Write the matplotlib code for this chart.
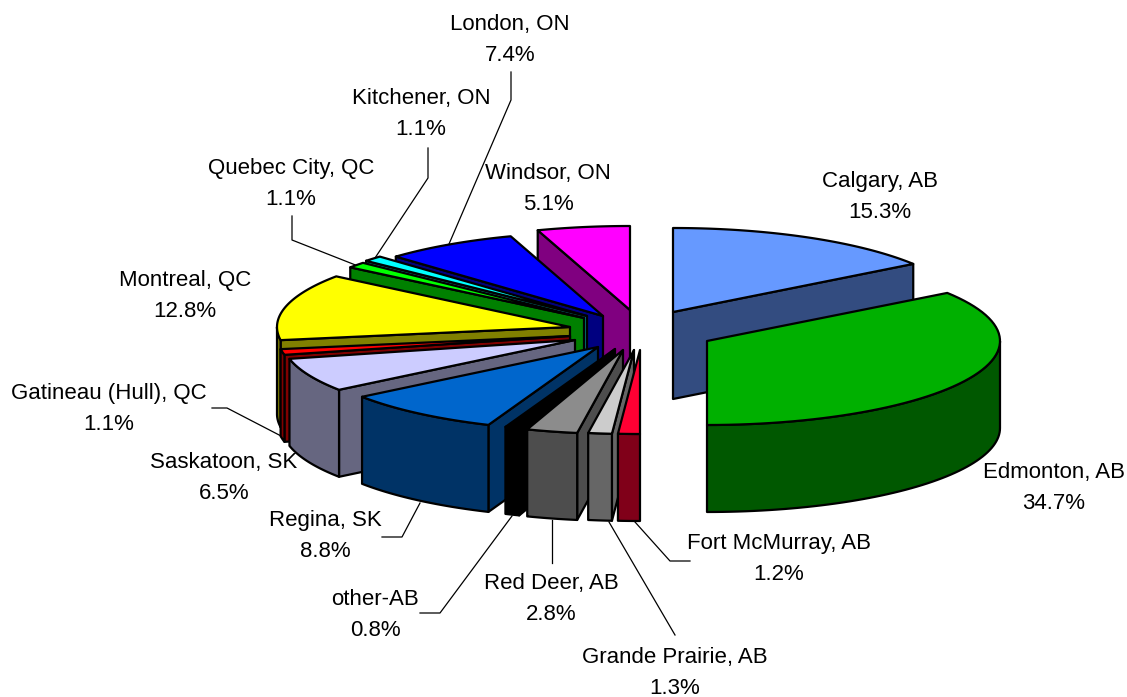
import matplotlib
matplotlib.use("Agg")
import matplotlib.pyplot as plt
import numpy as np

plt.rcParams['font.family'] = ['Liberation Sans', 'DejaVu Sans']

# clockwise from 12 o'clock
cities = ["Calgary, AB", "Edmonton, AB", "Fort McMurray, AB", "Grande Prairie, AB",
          "Red Deer, AB", "other-AB", "Regina, SK", "Saskatoon, SK", "Gatineau (Hull), QC",
          "Montreal, QC", "Quebec City, QC", "Kitchener, ON", "London, ON", "Windsor, ON"]
shares = [15.3, 34.7, 1.2, 1.3, 2.8, 0.8, 8.8, 6.5, 1.1, 12.8, 1.1, 1.1, 7.4, 5.1]

top_colors = ["#6699ff", "#00b000", "#ff0033", "#cccccc", "#8c8c8c", "#000000", "#0066cc",
              "#ccccff", "#ff0000", "#ffff00", "#00ff00", "#00ffff", "#0000ff", "#ff00ff"]
side_colors = ["#334c80", "#005800", "#800019", "#666666", "#4d4d4d", "#000000", "#003366",
               "#666680", "#800000", "#808000", "#008000", "#008080", "#000080", "#800080"]

# exploded position of each slice tip, in picture pixels
tips = [(673, 312), (707, 341), (640, 350), (634, 350), (623, 350), (615, 349), (598, 347),
        (575, 340), (570, 336), (570, 327), (584, 318), (587, 316), (603, 316), (630, 310)]

# label centre and leader line for each slice
label_pos = [(880, 197), (1054, 488), (779, 559), (675, 673), (551, 599), (375, 615), (325, 536),
             (224, 478), (109, 409), (185, 296), (291, 184), (421, 114), (510, 40), (548, 189)]
leaders = [None, None,
           [(635, 522), (670, 561), (690, 561)],
           [(609, 522), (675, 635)],
           [(552, 520), (552, 563)],
           [(512, 516), (440, 613), (420, 613)],
           [(420, 503), (402, 537), (382, 537)],
           None,
           [(283, 437), (227, 408), (212, 408)],
           None,
           [(358, 266), (292, 240), (292, 216)],
           [(375, 258), (428, 178), (428, 148)],
           [(449, 244), (511, 100), (511, 72)],
           None]

RX, RY, DEPTH = 293, 84, 87


def rim(tip, a):
    return tip[0] + RX * np.sin(a), tip[1] - RY * np.cos(a)


def draw_slice(ax, tip, a0, a1, top, side, z):
    kw = dict(edgecolor="black", linewidth=1.6, joinstyle="round", zorder=z)
    # radial walls, only the ones facing the viewer
    for a, show in [(a0, np.sin(a0) < -1e-6), (a1, np.sin(a1) > 1e-6)]:
        if show:
            x, y = rim(tip, a)
            ax.fill([tip[0], x, x, tip[0]], [tip[1], y, y + DEPTH, tip[1] + DEPTH], facecolor=side, **kw)
    # outer wall
    lo, hi = max(a0, np.pi / 2), min(a1, 3 * np.pi / 2)
    if hi > lo:
        t = np.linspace(lo, hi, 60)
        x, y = rim(tip, t)
        ax.fill(np.r_[x, x[::-1]], np.r_[y, y[::-1] + DEPTH], facecolor=side, **kw)
    # top face
    t = np.linspace(a0, a1, 60)
    x, y = rim(tip, t)
    ax.fill(np.r_[tip[0], x], np.r_[tip[1], y], facecolor=top, **kw)


fig = plt.figure(figsize=(11.27, 6.97), dpi=100)
ax = fig.add_axes([0, 0, 1, 1])
ax.set_xlim(0, 1127)
ax.set_ylim(697, 0)
ax.axis("off")

edges = np.radians(np.r_[0, np.cumsum(shares)] / sum(shares) * 360)
# back slices first, then round the left side towards the front
order = [0, 1] + list(range(13, 1, -1))
for z, i in enumerate(order):
    draw_slice(ax, tips[i], edges[i], edges[i + 1], top_colors[i], side_colors[i], 2 + z)

for line in leaders:
    if line:
        xs, ys = zip(*line)
        ax.plot(xs, ys, color="black", linewidth=0.9, zorder=1)

for name, share, (x, y) in zip(cities, shares, label_pos):
    ax.text(x, y, f"{name}\n{share:.1f}%", ha="center", va="center", fontsize=16,
            linespacing=1.65, color="black", zorder=30)

fig.savefig("out.png", dpi=100)
